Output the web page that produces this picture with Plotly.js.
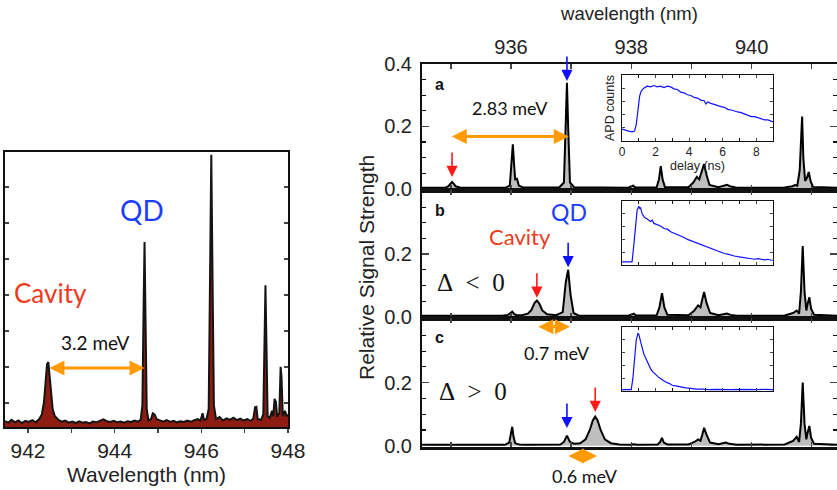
<!DOCTYPE html>
<html>
<head>
<meta charset="utf-8">
<script src="https://cdn.plot.ly/plotly-3.0.1.min.js"></script>
<style>html,body{margin:0;padding:0;background:#fff;}#chart{width:837px;height:490px;}</style>
</head>
<body>
<div id="chart"></div>
<script>
// ---------- DATA ----------
// Left panel: PL spectrum (wavelength nm, arb. counts)
const leftSpectrum = [
 [941.47,0.16],[941.55,0.12],[941.62,0.20],[941.70,0.13],[941.78,0.18],[941.86,0.11],[941.94,0.17],
 [942.02,0.14],[942.10,0.19],[942.18,0.13],[942.26,0.22],[942.32,0.35],[942.37,0.70],[942.41,1.30],
 [942.44,1.75],[942.47,1.80],[942.50,1.40],[942.53,0.90],[942.57,0.50],[942.62,0.30],[942.70,0.20],
 [942.78,0.15],[942.86,0.18],[942.94,0.12],[943.02,0.15],[943.10,0.11],[943.18,0.16],[943.26,0.12],
 [943.34,0.14],[943.42,0.10],[943.50,0.15],[943.58,0.13],[943.66,0.18],[943.74,0.21],[943.82,0.16],
 [943.90,0.14],[943.98,0.17],[944.06,0.13],[944.14,0.15],[944.22,0.12],[944.30,0.16],[944.38,0.14],
 [944.46,0.18],[944.54,0.15],[944.60,0.20],[944.64,0.60],[944.67,3.50],[944.69,5.14],[944.71,3.20],
 [944.74,0.50],[944.78,0.18],[944.84,0.22],[944.88,0.38],[944.92,0.35],[944.97,0.22],[945.04,0.18],
 [945.12,0.15],[945.20,0.19],[945.28,0.14],[945.36,0.17],[945.44,0.13],[945.52,0.16],[945.60,0.14],
 [945.68,0.18],[945.76,0.15],[945.84,0.19],[945.92,0.22],[945.98,0.18],[946.03,0.38],[946.06,0.20],
 [946.12,0.22],[946.17,0.50],[946.20,4.50],[946.23,7.56],[946.26,4.00],[946.29,0.60],[946.34,0.22],
 [946.42,0.28],[946.50,0.18],[946.58,0.24],[946.66,0.20],[946.74,0.26],[946.82,0.19],[946.90,0.23],
 [946.98,0.18],[947.06,0.22],[947.14,0.17],[947.20,0.24],[947.24,0.55],[947.27,0.56],[947.30,0.22],
 [947.38,0.20],[947.43,0.35],[947.46,3.00],[947.48,3.94],[947.50,2.50],[947.53,0.30],[947.58,0.25],
 [947.63,0.45],[947.66,0.30],[947.69,0.78],[947.72,0.70],[947.75,0.28],[947.80,0.40],[947.83,1.67],
 [947.85,1.40],[947.88,0.30],[947.93,0.45],[947.97,0.30],[948.00,0.35]
];

// Right panels: relative signal strength vs wavelength (nm)
const spectrumA = [
 [934.52,0.003],[934.90,0.003],[934.96,0.008],[935.00,0.018],[935.02,0.022],[935.04,0.018],[935.08,0.008],
 [935.15,0.004],[935.90,0.003],[935.98,0.010],[936.01,0.100],[936.03,0.143],[936.05,0.080],[936.07,0.030],
 [936.10,0.032],[936.13,0.010],[936.20,0.004],[936.80,0.004],[936.88,0.020],[936.91,0.200],[936.93,0.340],
 [936.95,0.200],[936.98,0.020],[937.05,0.005],[937.95,0.003],[938.00,0.008],[938.03,0.010],[938.07,0.004],
 [938.42,0.004],[938.46,0.030],[938.49,0.073],[938.52,0.030],[938.56,0.005],[938.95,0.005],[939.03,0.020],
 [939.09,0.038],[939.13,0.030],[939.17,0.055],[939.21,0.079],[939.25,0.045],[939.30,0.012],[939.45,0.005],
 [939.55,0.010],[939.59,0.013],[939.64,0.008],[939.75,0.003],[940.55,0.004],[940.68,0.008],[940.72,0.012],
 [940.76,0.010],[940.80,0.060],[940.82,0.160],[940.84,0.232],[940.86,0.100],[940.89,0.025],[940.92,0.035],
 [940.95,0.054],[940.98,0.025],[941.02,0.006],[941.42,0.003]
];
const spectrumB = [
 [934.52,0.003],[935.85,0.003],[935.95,0.006],[935.99,0.012],[936.02,0.016],[936.05,0.009],[936.09,0.005],
 [936.18,0.005],[936.28,0.010],[936.34,0.022],[936.39,0.044],[936.43,0.052],[936.47,0.042],[936.52,0.020],
 [936.60,0.008],[936.75,0.005],[936.86,0.015],[936.91,0.110],[936.95,0.150],[936.99,0.070],[937.04,0.012],
 [937.12,0.004],[937.95,0.003],[938.01,0.007],[938.04,0.010],[938.08,0.004],[938.42,0.004],[938.47,0.032],
 [938.51,0.075],[938.55,0.030],[938.60,0.006],[938.95,0.005],[939.04,0.018],[939.11,0.036],[939.15,0.030],
 [939.18,0.055],[939.21,0.079],[939.25,0.045],[939.31,0.012],[939.45,0.005],[939.54,0.008],[939.59,0.010],
 [939.65,0.006],[939.76,0.003],[940.55,0.004],[940.69,0.012],[940.75,0.020],[940.79,0.010],[940.82,0.080],
 [940.85,0.226],[940.88,0.080],[940.91,0.020],[940.93,0.040],[940.96,0.062],[940.99,0.025],[941.04,0.006],
 [941.42,0.003]
];
const spectrumC = [
 [934.52,0.003],[935.90,0.003],[935.97,0.010],[936.00,0.040],[936.02,0.060],[936.04,0.030],[936.07,0.008],
 [936.10,0.006],[936.14,0.004],[936.25,0.003],[936.82,0.004],[936.88,0.012],[936.93,0.032],[936.98,0.012],
 [937.05,0.006],[937.15,0.008],[937.24,0.020],[937.31,0.050],[937.36,0.080],[937.40,0.092],[937.44,0.080],
 [937.49,0.050],[937.56,0.020],[937.66,0.008],[937.80,0.004],[937.98,0.003],[938.04,0.005],[938.10,0.003],
 [938.44,0.004],[938.48,0.012],[938.51,0.025],[938.54,0.010],[938.60,0.004],[938.95,0.004],[939.05,0.012],
 [939.11,0.020],[939.15,0.016],[939.18,0.035],[939.21,0.057],[939.25,0.035],[939.31,0.010],[939.45,0.005],
 [939.52,0.007],[939.57,0.010],[939.63,0.006],[939.76,0.003],[940.55,0.004],[940.69,0.015],[940.75,0.028],
 [940.79,0.012],[940.82,0.070],[940.85,0.200],[940.88,0.070],[940.91,0.020],[940.93,0.040],[940.96,0.063],
 [940.99,0.025],[941.04,0.006],[941.42,0.003]
];

// Insets: APD counts (normalised) vs delay (ns)
const decayA = [
 [0.0,0.18],[0.2,0.16],[0.4,0.15],[0.6,0.14],[0.75,0.15],[0.85,0.25],[0.95,0.50],[1.05,0.68],[1.15,0.76],
 [1.3,0.80],[1.5,0.83],[1.7,0.82],[1.9,0.84],[2.1,0.82],[2.3,0.83],[2.5,0.81],[2.7,0.83],[2.9,0.82],
 [3.1,0.79],[3.3,0.78],[3.5,0.74],[3.7,0.73],[3.9,0.70],[4.1,0.69],[4.3,0.66],[4.5,0.65],[4.7,0.62],
 [4.9,0.61],[5.0,0.56],[5.1,0.59],[5.3,0.57],[5.5,0.55],[5.7,0.54],[5.9,0.52],[6.1,0.51],[6.3,0.48],
 [6.5,0.47],[6.7,0.45],[6.9,0.44],[7.1,0.43],[7.3,0.41],[7.5,0.39],[7.7,0.37],[7.9,0.37],[8.1,0.35],
 [8.3,0.34],[8.5,0.32],[8.7,0.32],[8.9,0.30],[9.0,0.29]
];
const decayB = [
 [0.0,0.05],[0.3,0.05],[0.6,0.05],[0.7,0.30],[0.8,0.65],[0.9,0.85],[1.0,0.92],[1.05,0.88],[1.1,0.90],
 [1.2,0.80],[1.35,0.74],[1.5,0.72],[1.7,0.68],[1.8,0.70],[1.9,0.65],[2.1,0.63],[2.3,0.61],[2.5,0.57],
 [2.7,0.56],[2.9,0.52],[3.1,0.50],[3.3,0.47],[3.5,0.46],[3.7,0.43],[3.9,0.40],[4.1,0.38],[4.3,0.36],
 [4.5,0.33],[4.7,0.31],[4.9,0.30],[5.1,0.27],[5.3,0.25],[5.5,0.23],[5.7,0.22],[5.9,0.20],[6.1,0.18],
 [6.3,0.17],[6.5,0.15],[6.7,0.14],[6.9,0.13],[7.1,0.12],[7.3,0.11],[7.5,0.11],[7.7,0.10],[7.9,0.09],
 [8.1,0.10],[8.3,0.09],[8.5,0.08],[8.7,0.09],[8.9,0.08],[9.0,0.07]
];
const decayC = [
 [0.0,0.02],[0.3,0.02],[0.55,0.02],[0.65,0.20],[0.75,0.55],[0.85,0.80],[0.95,0.90],[1.0,0.89],[1.1,0.78],
 [1.2,0.66],[1.3,0.58],[1.4,0.52],[1.5,0.46],[1.6,0.42],[1.7,0.35],[1.8,0.31],[1.9,0.28],[2.0,0.26],
 [2.2,0.21],[2.4,0.17],[2.6,0.14],[2.8,0.12],[3.0,0.09],[3.2,0.08],[3.5,0.06],[3.8,0.05],[4.1,0.04],
 [4.4,0.03],[4.8,0.03],[5.2,0.02],[5.6,0.025],[6.0,0.02],[6.5,0.02],[7.0,0.025],[7.5,0.02],[8.0,0.02],
 [8.5,0.025],[9.0,0.02]
];

// Tick labels
const leftTickVals = [942,943,944,945,946,947,948];
const leftTickText = ['942','','944','','946','','948'];
const topTickVals = [935,936,937,938,939,940,941];
const topTickText = ['','936','','938','','940',''];
const insetTickVals = [0,2,4,6,8];
const insetTickText = ['0','2','4','6','8'];

// ---------- PLOT ----------
const xs = a => a.map(p => p[0]);
const ys = a => a.map(p => p[1]);
const W = 837, H = 490;
const px = v => v / W;
const py = v => 1 - v / H;

const BLUE = '#1010ff', RED = '#ff1a1a', ORANGE = '#ff9a00';
const TXT_BLUE = '#1b3dff', TXT_RED = '#ee3a1c';
const HUM = 'Lato, "Open Sans", sans-serif';
const SANS = '"Liberation Sans", Arial, sans-serif';
const SERIF = '"Liberation Serif", "DejaVu Serif", serif';

const traces = [
  {x: xs(leftSpectrum), y: ys(leftSpectrum), xaxis:'x', yaxis:'y', mode:'lines',
   line:{color:'#141414', width:2}, fill:'tozeroy', fillcolor:'#8e1c12', hoverinfo:'skip'},
  {x: xs(spectrumA), y: ys(spectrumA), xaxis:'x2', yaxis:'y2', mode:'lines',
   line:{color:'#000', width:2}, fill:'tozeroy', fillcolor:'#bebebe'},
  {x: xs(spectrumB), y: ys(spectrumB), xaxis:'x3', yaxis:'y3', mode:'lines',
   line:{color:'#000', width:2}, fill:'tozeroy', fillcolor:'#bebebe'},
  {x: xs(spectrumC), y: ys(spectrumC), xaxis:'x4', yaxis:'y4', mode:'lines',
   line:{color:'#000', width:2}, fill:'tozeroy', fillcolor:'#bebebe'},
  {x: xs(decayA), y: ys(decayA), xaxis:'x5', yaxis:'y5', mode:'lines', line:{color:BLUE, width:1.2}},
  {x: xs(decayB), y: ys(decayB), xaxis:'x6', yaxis:'y6', mode:'lines', line:{color:BLUE, width:1.2}},
  {x: xs(decayC), y: ys(decayC), xaxis:'x7', yaxis:'y7', mode:'lines', line:{color:BLUE, width:1.2}}
];

const common = {showgrid:false, zeroline:false, showline:true, linecolor:'#111'};
const rightX = Object.assign({}, common, {domain:[px(422), 1], range:[934.52, 941.42],
  tickvals: topTickVals, ticktext: topTickText, ticks:'inside', ticklen:5, tickwidth:1.5,
  linewidth:2.5, mirror:'ticks', tickfont:{family:SANS, size:20, color:'#222'}});
const minorY = {tickvals:[0.05,0.1,0.15,0.25,0.3,0.35], ticks:'inside', ticklen:4, tickwidth:1.2, tickcolor:'#111'};
const rightY = Object.assign({}, common, {tickvals:[0,0.2], ticktext:['0.0','0.2'],
  ticks:'inside', ticklen:7, tickwidth:1.5, linewidth:2, mirror:'ticks', minor: minorY,
  tickfont:{family:SANS, size:20, color:'#222'}, ticklabelstandoff:4});

function insetX(anchor, labels) {
  return Object.assign({}, common, {anchor: anchor, domain:[px(622), px(773)], range:[0,9],
    tickvals: insetTickVals, ticktext: insetTickText, showticklabels: labels,
    ticks:'inside', ticklen:3, tickwidth:1, linewidth:1, mirror:'ticks',
    minor:{tickvals:[1,3,5,7], ticks:'inside', ticklen:3, tickwidth:1, tickcolor:'#111'},
    tickfont:{family:SANS, size:12, color:'#222'},
    title: labels ? {text:'delay (ns)', font:{family:SANS, size:12.5, color:'#222'}, standoff:1} : undefined});
}
function insetY(anchor, top, bottom, labels) {
  return Object.assign({}, common, {anchor: anchor, domain:[py(bottom), py(top)], range:[0,1],
    tickvals:[0.2,0.4,0.6,0.8], showticklabels:false, ticks:'inside', ticklen:3, tickwidth:1,
    linewidth:1, mirror:'ticks',
    title: labels ? {text:'APD counts', font:{family:SANS, size:12.5, color:'#222'}, standoff:3} : undefined});
}

const layout = {
  width: W, height: H, autosize:false,
  margin:{l:0, r:0, t:0, b:0, pad:0},
  paper_bgcolor:'#fff', plot_bgcolor:'#fff', showlegend:false,
  font:{family:SANS, color:'#111'},
  xaxis: Object.assign({}, common, {domain:[px(5), px(288)], range:[941.47, 948.0], anchor:'y',
    tickvals: leftTickVals, ticktext: leftTickText, ticks:'outside', ticklen:4, tickwidth:1.5,
    linewidth:2, mirror:true, tickfont:{family:SANS, size:21, color:'#222'},
    title:{text:'Wavelength (nm)', font:{family:SANS, size:21, color:'#222'}, standoff:6}}),
  yaxis: Object.assign({}, common, {domain:[py(427), py(152)], range:[0, 7.64], anchor:'x',
    tick0:0.667, dtick:1, ticks:'inside', ticklen:4, tickwidth:1.5, showticklabels:false,
    linewidth:2, mirror:'ticks'}),
  xaxis2: Object.assign({}, rightX, {anchor:'y2', side:'top',
    title:{text:'wavelength (nm)', font:{family:SANS, size:18.5, color:'#222'}, standoff:10}}),
  yaxis2: Object.assign({}, rightY, {anchor:'x2', domain:[py(190), py(64)], range:[-0.004, 0.4005],
    tickvals:[0,0.2,0.4], ticktext:['0.0','0.2','0.4']}),
  xaxis3: Object.assign({}, rightX, {anchor:'y3', showticklabels:false}),
  yaxis3: Object.assign({}, rightY, {anchor:'x3', domain:[py(318), py(190)], range:[-0.004, 0.405]}),
  xaxis4: Object.assign({}, rightX, {anchor:'y4', showticklabels:false}),
  yaxis4: Object.assign({}, rightY, {anchor:'x4', domain:[py(447), py(318)], range:[-0.004, 0.405]}),
  xaxis5: insetX('y5', true),
  yaxis5: insetY('x5', 75, 141, true),
  xaxis6: insetX('y6', false),
  yaxis6: insetY('x6', 201, 265, false),
  xaxis7: insetX('y7', false),
  yaxis7: insetY('x7', 327, 391, false),
  annotations: []
};

const A = layout.annotations;
function txt(xref, yref, x, y, text, font, extra) {
  A.push(Object.assign({xref:xref, yref:yref, x:x, y:y, text:text, showarrow:false, font:font,
    xanchor:'center', yanchor:'middle'}, extra||{}));
}
function downArrow(xref, yref, x, y, color) {
  A.push({xref:xref, yref:yref, x:x, y:y, ax:0, ay:-26, text:'', showarrow:true,
    arrowhead:2, arrowsize:1.4, arrowwidth:1.6, arrowcolor:color, standoff:0});
}
function dblArrow(xref, yref, x0, x1, y) {
  A.push({xref:xref, yref:yref, axref:xref, ayref:yref, x:x1, y:y, ax:x0, ay:y, text:'',
    showarrow:true, arrowhead:2, startarrowhead:2, arrowside:'end+start',
    arrowsize:1, startarrowsize:1, arrowwidth:3, arrowcolor:ORANGE, standoff:0, startstandoff:0});
}
// double arrow whose vertical position is in paper space (below an axis); length in pixels
function dblArrowPaper(xref, x1, lenPx, yPaper) {
  A.push({xref:xref, yref:'paper', x:x1, y:yPaper, ax:-lenPx, ay:0, text:'',
    showarrow:true, arrowhead:2, startarrowhead:2, arrowside:'end+start',
    arrowsize:1, startarrowsize:1, arrowwidth:3, arrowcolor:ORANGE, standoff:0, startstandoff:0});
}

// Left panel
txt('x','y', 944.64, 6.03, 'QD', {family:HUM, size:28, color:TXT_BLUE});
txt('x','y', 942.53, 3.72, 'Cavity', {family:HUM, size:26, color:TXT_RED});
txt('x','y', 943.56, 2.36, '3.2 meV', {family:HUM, size:19, color:'#111'});
dblArrow('x','y', 942.46, 944.69, 1.64);

// Panel a
txt('x2','y2', 934.70, 0.336, '<b>a</b>', {family:SANS, size:16, color:'#111'}, {xanchor:'left'});
txt('x2','y2', 935.98, 0.26, '2.83 meV', {family:HUM, size:18, color:'#111'});
dblArrow('x2','y2', 934.99, 936.96, 0.168);
downArrow('x2','y2', 936.93, 0.346, BLUE);
downArrow('x2','y2', 935.02, 0.038, RED);

// Panel b
txt('x3','y3', 934.70, 0.339, '<b>b</b>', {family:SANS, size:16, color:'#111'}, {xanchor:'left'});
txt('x3','y3', 936.96, 0.336, 'QD', {family:HUM, size:23, color:TXT_BLUE});
txt('x3','y3', 936.15, 0.255, 'Cavity', {family:HUM, size:22, color:TXT_RED});
txt('x3','y3', 935.34, 0.109, 'Δ\u2002<\u20020', {family:SERIF, size:25, color:'#111'});
downArrow('x3','y3', 936.95, 0.158, BLUE);
downArrow('x3','y3', 936.43, 0.061, RED);

// Panel c
txt('x4','y4', 934.70, 0.342, '<b>c</b>', {family:SANS, size:16, color:'#111'}, {xanchor:'left'});
dblArrow('x4','y4', 936.43, 936.98, 0.377);
txt('x4','y4', 936.76, 0.295, '0.7 meV', {family:HUM, size:18, color:'#111'});
txt('x4','y4', 935.36, 0.171, 'Δ\u2002>\u20020', {family:SERIF, size:25, color:'#111'});
downArrow('x4','y4', 936.93, 0.056, BLUE);
downArrow('x4','y4', 937.40, 0.107, RED);
dblArrowPaper('x4', 937.43, 30, py(456));
txt('x4','paper', 937.23, py(476), '0.6 meV', {family:HUM, size:18, color:'#111'});

// Shared y title
txt('paper','paper', px(366), py(268), 'Relative Signal Strength', {family:SANS, size:21, color:'#222'}, {textangle:-90});

Plotly.newPlot('chart', traces, layout, {staticPlot:true, displayModeBar:false});
</script>
</body>
</html>
